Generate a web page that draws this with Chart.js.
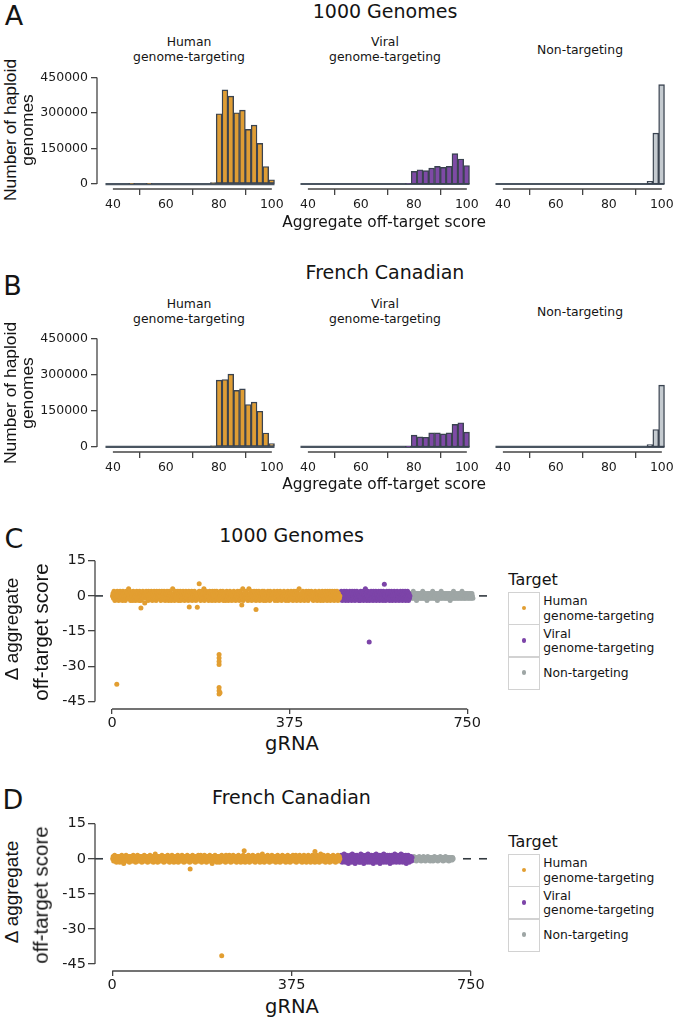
<!DOCTYPE html>
<html><head><meta charset="utf-8">
<script src="https://cdn.jsdelivr.net/npm/chart.js@4.4.0/dist/chart.umd.min.js"></script>
<style>
html,body{margin:0;padding:0;background:#fff}
body{position:relative;width:677px;height:1021px;overflow:hidden;font-family:'DejaVu Sans',sans-serif;color:#141414}
canvas{position:absolute}
.t{position:absolute;white-space:nowrap;line-height:1}
.box{position:absolute;border:1px solid #d2d2d2;box-sizing:border-box}
.dot{position:absolute;border-radius:50%}
</style></head><body>
<canvas id="a1"></canvas><canvas id="a2"></canvas><canvas id="a3"></canvas>
<canvas id="b1"></canvas><canvas id="b2"></canvas><canvas id="b3"></canvas>
<canvas id="cc"></canvas><canvas id="dd"></canvas>
<script>
// ---------- histogram data (panels A, B) ----------
const binCenters = [38.3,40.5,42.7,44.9,47.1,49.3,51.5,53.7,55.9,58.1,60.3,62.5,64.7,66.9,69.1,71.3,73.5,75.7,77.9,80.1,82.3,84.5,86.7,88.9,91.1,93.3,95.5,97.7,99.9];
const binSpan = [37.2, 101];
const scoreTicks = [40, 60, 80, 100];
const countTicks = [0, 150000, 300000, 450000];
const facetNames = [['Human','genome-targeting'], ['Viral','genome-targeting'], ['Non-targeting']];
const kgHuman = [0,0,0,0,2000,0,0,2000,0,0,0,0,0,0,0,0,0,0,6000,297000,398000,371000,301000,312000,231000,249000,172000,74000,18000];
const kgViral = [0,0,0,0,0,0,0,0,0,0,0,0,0,0,0,0,0,0,2000,53000,60000,56000,67000,74000,70000,74000,128000,105000,78000];
const kgNon   = [0,0,0,0,0,0,0,0,0,0,0,0,0,0,0,0,0,0,0,0,0,0,0,0,0,0,11000,214000,418000];
const fcHuman = [0,0,0,0,0,0,0,0,0,0,0,0,0,0,0,0,0,0,5000,277000,280000,302000,235000,241000,176000,186000,148000,58000,14000];
const fcViral = [0,0,0,0,0,0,0,0,0,0,0,0,0,0,0,0,0,0,2000,48500,41500,40000,58000,58000,54000,58000,93000,100000,61000];
const fcNon   = [0,0,0,0,0,0,0,0,0,0,0,0,0,0,0,0,0,0,0,0,0,0,0,0,0,0,10000,72000,255000];

// ---------- delta scatter data (panels C, D), one value per gRNA ----------
const gTicks = [0, 375, 750];
const deltaTicks = [-45, -30, -15, 0, 15];
const refValue = 0;
const kgStart = {human: 1, viral: 482, non: 630};
const kgDeltaHuman = [
0,1,-1,2,0,-2,1,0,-1,1,2,-1,0,-2,1,0,2,-1,1,-1,
0,-2,2,1,-1,0,1,-2,0,2,-1,1,0,-1,3,0,-1,2,-2,1,
-1,0,1,-2,2,0,-1,1,0,-2,1,2,-1,0,1,-1,-2,2,0,1,
-2,1,0,-1,2,-1,0,1,-3,1,0,2,-1,1,0,-2,2,-1,0,1,
1,-1,2,0,-2,1,-1,0,2,-1,1,0,-2,2,1,-1,0,1,-1,2,
-1,0,-2,1,2,-1,0,1,-1,2,0,-2,1,-1,0,2,-1,1,-2,0,
2,-1,1,0,-2,1,-1,3,0,-1,1,-2,0,2,-1,0,1,-1,2,-2,
0,1,-1,2,-2,0,1,-1,0,2,-1,1,-2,0,1,2,-1,0,-1,1,
-2,2,0,-1,1,0,-1,2,-2,1,0,-1,1,2,-1,0,-2,1,0,-1,
1,0,-1,2,-1,1,-2,0,2,-1,0,1,-1,3,-2,0,1,-1,2,0,
-1,1,0,-2,1,2,-1,0,1,-1,-2,2,0,1,-1,0,2,-2,1,0,
2,-1,0,1,-1,-2,1,0,2,-1,1,0,-1,2,-2,1,0,-1,1,-2,
0,2,-1,1,0,-2,1,-1,2,0,-1,1,-2,0,1,-1,2,0,-1,1,
-2,0,1,-1,2,-1,0,1,-2,2,0,-1,1,0,-1,3,-2,1,0,-1,
1,-1,2,0,-1,1,-2,0,3,-1,0,1,-1,2,-2,0,1,-1,0,2,
-1,1,0,-2,2,-1,1,0,-1,2,0,-2,1,-1,0,1,2,-1,0,-2,
2,0,-1,1,-2,1,0,-1,2,-1,0,1,-2,2,0,-1,1,0,-1,1,
-1,2,0,-2,1,0,-1,1,2,-2,0,1,-1,0,2,-1,1,-2,0,1,
0,-1,2,-1,1,0,-2,1,0,-1,2,1,-2,0,1,-1,0,2,-1,0,
1,-2,0,2,-1,1,0,-1,2,-2,1,0,-1,1,3,-1,0,-2,1,0,
-1,1,2,-1,0,-2,1,0,-1,2,0,-1,1,-2,2,0,1,-1,0,1,
2,-1,0,1,-2,0,1,-1,2,0,-1,1,-2,1,0,-1,2,-1,0,-2,
0,1,-1,2,0,-2,1,-1,0,2,-1,1,0,-2,2,-1,0,1,-1,2,
-2,1,0,-1,2,-1,1,0,-2,2,0,-1,1,-1,2,0,-2,1,0,-1,
0];
const kgDeltaViral = [
1,-1,2,0,-2,1,-1,0,2,-1,1,-2,0,2,-1,1,0,-2,1,-1,
2,0,-1,1,-2,2,-1,0,1,-1,2,-2,0,1,-1,2,0,-1,1,-2,
0,1,-2,2,-1,0,1,-1,2,-2,1,0,-1,3,-1,1,-2,0,2,-1,
1,0,-2,1,-1,2,0,-1,1,-2,2,-1,0,1,-1,2,-2,0,1,-1,
-1,2,0,-2,1,-1,2,0,-1,1,-2,2,0,-1,1,0,-2,1,2,-1,
0,1,-1,2,-2,0,1,-1,2,0,-2,1,-1,0,2,-1,1,-2,0,1,
2,-1,0,1,-2,1,-1,2,0,-1,1,-2,2,0,-1,1,-1,2,-2,0,
1,-1,2,0,-2,1,-1,0];
const kgDeltaNon = [
0,1,-1,0,1,-1,2,0,-1,1,0,-1,1,-2,0,1,-1,0,1,-1,
1,0,-1,1,-1,0,2,-1,0,1,-1,0,1,-1,0,-2,1,0,-1,1,
0,-1,1,0,-1,1,0,2,-1,0,1,-1,0,1,-1,0,1,-2,0,1,
-1,0,1,-1,0,2,-1,0,1,-1,0,1,0,-1,1,-1,0,1,-1,0,
1,-1,0,1,-2,0,1,-1,0,1,-1,2,0,-1,1,0,-1,1,0,-1,
0,1,-1,0,1,-1,0,1,-1,2,0,-1,1,0,-1,1,-1,0,1,0,
-1,1,0,-1,1,0,-1,1,0,-1,1,0,-1];
const kgHumanOutliers = [[10,-37.7],[226,-25],[226,-26.5],[226,-28],[226,-29.2],[226,-39],[226,-40.4],[226,-41.8],[228,-41.3],[184,5.2],[61,-5.2],[163,-4.7],[180,-4.8],[274,-3.9],[304,-5.8]];
const kgViralOutliers = [[543,-19.7],[575,5]];

const fcStart = {human: 1, viral: 477, non: 628};
const fcDeltaHuman = [
0,1,-1,0,1.5,-1,0,1,-1.5,0,1,0,-1,1,0,-1.5,1,0,-1,1.5,
-1,0,1,-2,0,1,-1,0,1.5,0,-1,1,0,-1,1,-1.5,0,1,0,-1,
1,0,-1,1.5,0,-1,1,0,-1.5,1,0,-1,1.5,0,-1,0,1,-1,0,1,
0,-1.5,1,0,-1,1,1.5,-1,0,1,-1,0,1,-1.5,0,1,-1,0,1.5,-1,
1,0,-1,0,1,-1.5,0,1,-1,2,0,-1,1,0,-1.5,1,0,-1,1,0,
-1,1,0,1.5,-1,0,1,-1.5,0,1,-1,0,1,0,-1,1.5,0,-1,1,-1.5,
0,1,-1,0,1.5,-1,1,0,-1.5,0,1,-1,0,1,-1,0,1.5,-1.5,1,0,
-1,0,1,-1,0,1.5,-1,0,1,-1.5,1,0,-1,1,0,-1,1.5,0,-1,1,
0,-1.5,1,0,-1,1,0,1.5,-1,0,1,-1,0,-1.5,1,0,1,-1,0,1.5,
-1,1,0,-1,1.5,0,-1.5,1,0,-1,1,0,1.5,-1,0,1,-1.5,0,1,-1,
0,1,-1,1.5,0,-1,1,0,-2,1,0,-1,1,0,1.5,-1,0,1,-1.5,0,
1,-1,0,1,-1.5,0,1,-1,1.5,0,-1,1,0,-1,1,0,-1.5,1.5,0,-1,
1,0,-1,0,1.5,-1,1,-1.5,0,1,-1,0,1.5,-1,0,1,-1,0,1,-1.5,
0,1,-1,1.5,0,-1,1,0,-1.5,1,0,-1,1,1.5,-1,0,1,-1.5,0,1,
-1,0,1,-1,1.5,0,-1.5,1,0,-1,1,0,-1,1.5,0,1,-1,0,-1.5,1,
0,-1,1,0,1.5,-1,0,1,-1.5,0,1,-1,0,2,-1,0,1,-1.5,0,1,
-1,1,0,-1,1.5,0,-1,1,-1.5,0,1,0,-1,1.5,-1,0,1,-1,0,1,
0,-1.5,1,0,-1,1.5,0,-1,1,0,-1.5,1,0,-1,1,1.5,-1,0,1,-1,
0,1,-1.5,0,1,-1,1.5,0,-1,1,0,-1.5,1,0,-1,1,0,1.5,-1,0,
1,-1,0,1.5,-1.5,0,1,-1,0,1,-1,1.5,0,-1,1,0,-1.5,1,0,-1,
1.5,0,-1,1,0,-1.5,1,0,-1,1.5,0,-1,1,0,-1.5,1,-1,0,1.5,0,
-1,1,0,-1.5,1,0,-1,1.5,0,-1,1,0,-1.5,1,0,2,-1,0,1,-1,
0,1.5,-1,0,1,-1.5,0,1,-1,0,1.5,-1,1,0,-1.5,1,0,-1,1,0,
-1,1.5,0,-1,1,0,-1.5,1,0,-1,1,1.5,0,-1,1,0];
const fcDeltaViral = [
1,-1,1.5,0,-1.5,1,-.5,0,2,-1,1,-1.5,0,1.5,-1,.5,0,-2,1,-1,
1.5,0,-1,1,-1.5,2,-1,0,1,-1,1.5,-2,0,1,-.5,1.5,0,-1,1,-1.5,
0,1,-1.5,2,-1,0,1,-1,1.5,-2,1,0,-1,1.5,-1,1,-1.5,0,2,-1,
1,0,-1.5,1,-1,1.5,0,-1,1,-2,1.5,-1,0,1,-1,2,-1.5,0,1,-1,
-1,1.5,0,-2,1,-1,1.5,0,-1,1,-1.5,2,0,-1,1,0,-1.5,1,1.5,-1,
0,1,-1,1.5,-2,0,1,-1,1.5,0,-1.5,1,-1,0,2,-1,1,-1.5,0,1,
1.5,-1,0,1,-1.5,1,-1,2,0,-1,1,-1.5,1.5,0,-1,1,-1,1.5,-2,0,
1,-1,1.5,0,-1.5,1,-1,0,1,-1,.5];
const fcDeltaNon = [
0,.5,-.5,1,0,-.5,.5,0,-1,.5,0,-.5,.5,0,1,-.5,0,.5,-1,0,
.5,-.5,0,1,-.5,0,.5,-1,0,.5,-.5,0,1,0,-.5,.5,0,-1,.5,0,
-.5,.5,0,-1,.5,0,1,-.5,0,.5,-.5,0,.5,-1,0,.5,0,-.5,1,0,
.5,0,-.5,.5,-1,0,.5,-.5,0,1,-.5,0,.5,-.5,0,.5,-1,0,.5,0,
-.5,.5,0,-.5,.5,0];
const fcHumanOutliers = [[229,-41.5],[163,-4.4],[276,3.4],[424,3.1]];

// ---------- styling ----------
const COL = {human:'#E29E31', viral:'#7C44A8', non:'#9EA6A5'};
const BAR = {human:'#DF9D34', viral:'#7E4AA6', non:'#C5CBD0'};
const OUTLINE = '#3A4350';
const AXIS = '#444444';
const TXT = '#1a1a1a';

const frame = {
  id:'frame',
  afterDraw(chart){
    const ctx = chart.ctx, a = chart.chartArea;
    ctx.save(); ctx.strokeStyle = AXIS; ctx.lineWidth = 1.3;
    ['x','y'].forEach(id => {
      const s = chart.scales[id];
      if (!s.options.display) return;
      const t = s.ticks, p0 = s.getPixelForValue(t[0].value), p1 = s.getPixelForValue(t[t.length-1].value);
      ctx.beginPath();
      if (id === 'x') { ctx.moveTo(p0, a.bottom); ctx.lineTo(p1, a.bottom); }
      else { ctx.moveTo(a.left, p0); ctx.lineTo(a.left, p1); }
      ctx.stroke();
    });
    ctx.restore();
  }
};
const zeroLine = {
  id:'zeroLine',
  beforeDatasetsDraw(chart){
    const ctx = chart.ctx, a = chart.chartArea, y = chart.scales.y.getPixelForValue(refValue);
    ctx.save(); ctx.strokeStyle = '#333a40'; ctx.lineWidth = 1.6; ctx.setLineDash([8,8]);
    ctx.beginPath(); ctx.moveTo(a.left, y); ctx.lineTo(a.right, y); ctx.stroke(); ctx.restore();
  }
};

function place(id, left, top, w, h){
  const c = document.getElementById(id);
  c.width = w; c.height = h; c.style.left = left + 'px'; c.style.top = top + 'px';
  c.style.width = w + 'px'; c.style.height = h + 'px';
  return c;
}
function tickSetter(arr){ return s => { s.ticks = arr.map(v => ({value: v})); }; }
const gridOpts = (len) => ({display:true, drawOnChartArea:false, drawTicks:true, tickLength:len, color:AXIS, lineWidth:1.3});

function hist(id, left, top, chartH, counts, fill, showY){
  const yW = showY ? 67 : 0;
  const c = place(id, left, top, yW + 181 + 8, 10 + chartH + 30);
  return new Chart(c, {
    type:'bar',
    data:{datasets:[
      {type:'bar', data: binCenters.map((x,i) => ({x, y: counts[i]})), backgroundColor: fill, borderColor: OUTLINE,
       borderWidth: 1.4, borderSkipped: false, barPercentage: 1, categoryPercentage: 1, order: 1},
      {type:'line', data: binSpan.map(x => ({x, y: 0})), borderColor:'#4a5561', borderWidth: 2.2, pointRadius: 0, order: 2}
    ]},
    options:{
      responsive:false, animation:false, events:[],
      layout:{padding:{top:10, right:8, left:0, bottom:0}},
      plugins:{legend:{display:false}, tooltip:{enabled:false}},
      scales:{
        x:{type:'linear', min:34, max:102, offset:false, grid:gridOpts(6), border:{display:false},
           ticks:{color:TXT, font:{family:'DejaVu Sans', size:12.5}, padding:2, maxRotation:0, autoSkip:false, callback:v => String(v)},
           afterBuildTicks: tickSetter(scoreTicks), afterFit: s => { s.height = 30; }},
        y:{type:'linear', display: showY, min:-21000, max:450000, grid:gridOpts(6), border:{display:false},
           ticks:{color:TXT, font:{family:'DejaVu Sans', size:12.5}, padding:3, callback:v => String(v)},
           afterBuildTicks: tickSetter(countTicks), afterFit: s => { s.width = yW; }}
      }
    },
    plugins:[frame]
  });
}

const fx = [30, 292, 487];
hist('a1', fx[0], 67, 112, kgHuman, BAR.human, true);
hist('a2', fx[1], 67, 112, kgViral, BAR.viral, false);
hist('a3', fx[2], 67, 112, kgNon, BAR.non, false);
hist('b1', fx[0], 328, 114, fcHuman, BAR.human, true);
hist('b2', fx[1], 328, 114, fcViral, BAR.viral, false);
hist('b3', fx[2], 328, 114, fcNon, BAR.non, false);

function seq(vals, start, extra){
  const pts = vals.map((v, i) => ({x: start + i, y: v}));
  (extra || []).forEach(p => pts.push({x: p[0], y: p[1]}));
  return pts;
}
function scatter(id, top, chartH, yMin, xMax, groups){
  const c = place(id, 40, top, 55 + 394 + 10, 10 + chartH + 22);
  return new Chart(c, {
    type:'scatter',
    data:{datasets: groups.map(g => ({data: g.pts, backgroundColor: g.color, pointRadius: 2.5, pointBorderWidth: 0, borderWidth: 0}))},
    options:{
      responsive:false, animation:false, events:[],
      layout:{padding:{top:10, right:10, left:0, bottom:0}},
      plugins:{legend:{display:false}, tooltip:{enabled:false}},
      scales:{
        x:{type:'linear', min:-36, max:xMax, grid:gridOpts(5), border:{display:false},
           ticks:{color:TXT, font:{family:'DejaVu Sans', size:14.5}, padding:1, maxRotation:0, autoSkip:false, callback:v => String(v)},
           afterBuildTicks: tickSetter(gTicks), afterFit: s => { s.height = 22; }},
        y:{type:'linear', min:yMin, max:15, grid:gridOpts(7), border:{display:false},
           ticks:{color:TXT, font:{family:'DejaVu Sans', size:14.5}, padding:2, callback:v => String(v)},
           afterBuildTicks: tickSetter(deltaTicks), afterFit: s => { s.width = 55; }}
      }
    },
    plugins:[zeroLine, frame]
  });
}
scatter('cc', 550, 149, -48.2, 796, [
  {pts: seq(kgDeltaHuman, kgStart.human, kgHumanOutliers), color: COL.human},
  {pts: seq(kgDeltaViral, kgStart.viral, kgViralOutliers), color: COL.viral},
  {pts: seq(kgDeltaNon, kgStart.non), color: COL.non}
]);
scatter('dd', 813, 148, -48, 788, [
  {pts: seq(fcDeltaHuman, fcStart.human, fcHumanOutliers), color: COL.human},
  {pts: seq(fcDeltaViral, fcStart.viral), color: COL.viral},
  {pts: seq(fcDeltaNon, fcStart.non), color: COL.non}
]);

// ---------- text ----------
function txt(s, x, y, size, o){
  o = o || {};
  const d = document.createElement('div');
  d.className = 't'; d.textContent = s;
  d.style.left = x + 'px'; d.style.top = y + 'px'; d.style.fontSize = size + 'px';
  if (o.rot) { d.style.fontFamily = "'Liberation Sans', Arial, sans-serif"; d.style.transform = 'translate(-50%,-50%) rotate(-90deg)'; }
  else if (o.left) d.style.transform = 'translate(0,-50%)';
  else d.style.transform = 'translate(-50%,-50%)';
  document.body.appendChild(d);
}
txt('A', 14, 15, 27); txt('B', 12.5, 285, 27); txt('C', 14, 537.5, 27); txt('D', 13, 799, 27);
txt('1000 Genomes', 385, 11, 19); txt('French Canadian', 385, 272, 19);
txt('1000 Genomes', 291.5, 535, 19); txt('French Canadian', 291.5, 797, 19);
const facetX = [189, 385, 580];
[0, 262].forEach(o => {
  facetNames.forEach((lines, i) => {
    if (lines.length === 2) { txt(lines[0], facetX[i], 42.2 + o, 12.4); txt(lines[1], facetX[i], 57.2 + o, 12.4); }
    else txt(lines[0], facetX[i], 49.5 + o, 12.4);
  });
});
txt('Aggregate off-target score', 384, 222.5, 15.4); txt('Aggregate off-target score', 384, 484.8, 15.4);
txt('gRNA', 292, 744, 19.5); txt('gRNA', 292, 1006.5, 19.5);
txt('Number of haploid', 10.7, 130, 17.4, {rot:true}); txt('genomes', 28, 130, 17.4, {rot:true});
txt('Number of haploid', 10.7, 392.5, 17.4, {rot:true}); txt('genomes', 28, 392.5, 17.4, {rot:true});
txt('\u0394 aggregate', 10.5, 629, 19, {rot:true}); txt('off-target score', 41.2, 632, 20.5, {rot:true});
txt('\u0394 aggregate', 10.5, 891.5, 19, {rot:true}); txt('off-target score', 41.2, 894.5, 20.5, {rot:true});

function legend(top){
  txt('Target', 508.3, top - 12.3, 16, {left:true});
  const keyCols = [COL.human, COL.viral, COL.non];
  keyCols.forEach((col, i) => {
    const b = document.createElement('div'); b.className = 'box';
    b.style.left = '507.7px'; b.style.top = (top + i * 32.1) + 'px'; b.style.width = '32.6px'; b.style.height = '33.1px';
    document.body.appendChild(b);
    const d = document.createElement('div'); d.className = 'dot';
    d.style.left = (524.3 - 2.2) + 'px'; d.style.top = (top + i * 32.1 + 16 - 2.2) + 'px';
    d.style.width = '4.4px'; d.style.height = '4.4px'; d.style.background = col;
    document.body.appendChild(d);
  });
  txt('Human', 543.3, top + 9, 12.3, {left:true}); txt('genome-targeting', 543.3, top + 23.9, 12.3, {left:true});
  txt('Viral', 543.3, top + 41.5, 12.3, {left:true}); txt('genome-targeting', 543.3, top + 55.9, 12.3, {left:true});
  txt('Non-targeting', 543.3, top + 81, 12.3, {left:true});
}
legend(592.3);
legend(854.3);
</script>
</body></html>
